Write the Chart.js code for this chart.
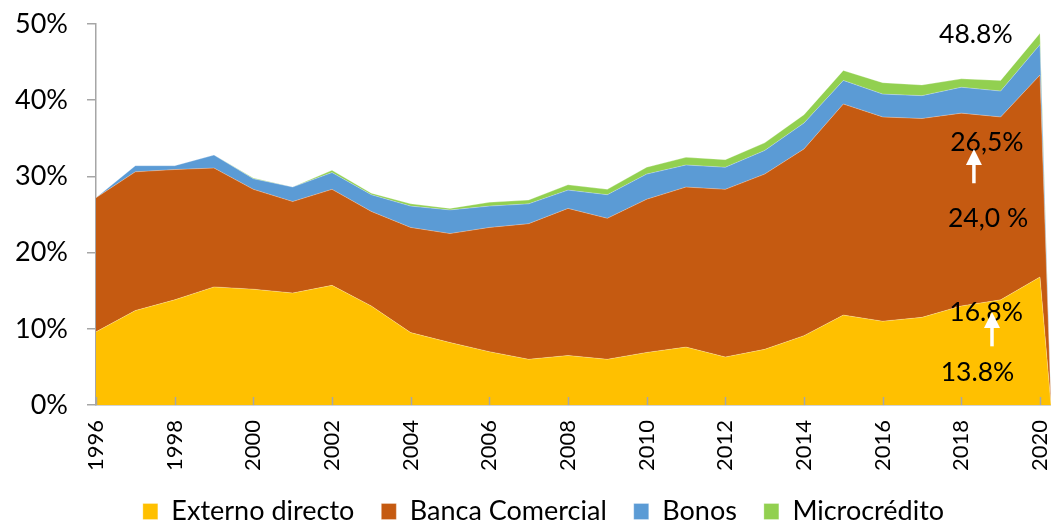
<!DOCTYPE html>
<html>
<head>
    <meta charset="UTF-8">
    <title>Deuda por fuente de financiamiento</title>
    <script src="https://cdn.jsdelivr.net/npm/chart.js@4.4.1/dist/chart.umd.min.js"></script>
    <style>
        body { margin: 0; background: #fff; }
        #wrap { width: 1051px; height: 521px; position: relative; }
    </style>
</head>
<body>
<div id="wrap"><canvas id="chart"></canvas></div>
<script>
// years on the x axis (every second one is labelled)
const years = [1996, 1997, 1998, 1999, 2000, 2001, 2002, 2003, 2004, 2005, 2006, 2007, 2008,
               2009, 2010, 2011, 2012, 2013, 2014, 2015, 2016, 2017, 2018, 2019, 2020];
// share of each source, in %
const externoDirecto = [9.6, 12.4, 13.8, 15.5, 15.2, 14.7, 15.7, 13.0, 9.5, 8.2, 7.0, 6.0, 6.5,
                        6.0, 6.9, 7.6, 6.3, 7.3, 9.1, 11.8, 11.0, 11.5, 13.0, 13.8, 16.8];
const bancaComercial = [17.6, 18.2, 17.1, 15.6, 13.1, 12.0, 12.6, 12.4, 13.8, 14.3, 16.3, 17.8, 19.3,
                        18.5, 20.1, 21.0, 22.0, 23.0, 24.5, 27.7, 26.8, 26.1, 25.3, 24.0, 26.5];
const bonos = [0.0, 0.8, 0.5, 1.7, 1.4, 1.9, 2.2, 2.2, 2.8, 3.1, 2.8, 2.6, 2.4,
               3.1, 3.3, 2.9, 2.9, 3.1, 3.4, 3.1, 3.0, 3.0, 3.4, 3.4, 4.0];
const microcredito = [0.0, 0.0, 0.0, 0.0, 0.1, 0.0, 0.3, 0.2, 0.3, 0.2, 0.5, 0.5, 0.7,
                      0.7, 0.9, 1.0, 1.0, 1.0, 1.1, 1.3, 1.5, 1.4, 1.1, 1.4, 1.5];
const seriesNames = ['Externo directo', 'Banca Comercial', 'Bonos', 'Microcrédito'];
const seriesColors = ['#FFC000', '#C55A11', '#5B9BD5', '#92D050'];
const yTicks = [0, 10, 20, 30, 40, 50];
const xTicks = [1996, 1998, 2000, 2002, 2004, 2006, 2008, 2010, 2012, 2014, 2016, 2018, 2020];
// the series close back to zero right after the last year
const closeYear = 2020.28;

const FONT = 'Lato, "Noto Sans", sans-serif';

function toPoints(values) {
    const pts = years.map((yr, i) => ({ x: yr, y: values[i] }));
    pts.push({ x: closeYear, y: 0 });
    return pts;
}

const last = years.length - 1;
const total2020 = externoDirecto[last] + bancaComercial[last] + bonos[last] + microcredito[last];
const comma = v => v.toFixed(1).replace('.', ',');

// callouts next to the last two years, placed in data units
const callouts = [
    { text: total2020.toFixed(1) + '%', x: 2018.37, y: 48.6 },
    { text: comma(bancaComercial[last]) + '%', x: 2018.65, y: 34.45 },
    { text: comma(bancaComercial[last - 1]) + ' %', x: 2018.68, y: 24.5 },
    { text: externoDirecto[last].toFixed(1) + '%', x: 2018.63, y: 12.2 },
    { text: externoDirecto[last - 1].toFixed(1) + '%', x: 2018.41, y: 4.25 }
];
const arrows = [
    { x: 2018.32, from: 29.1, to: 33.6 },
    { x: 2018.78, from: 7.7, to: 12.2 }
];

const datasets = [externoDirecto, bancaComercial, bonos, microcredito].map((vals, i) => ({
    label: seriesNames[i],
    data: toPoints(vals),
    backgroundColor: seriesColors[i],
    borderColor: 'rgba(255,255,255,0.35)',
    borderWidth: 0.8,
    pointRadius: 0,
    tension: 0,
    fill: i === 0 ? 'origin' : '-1'
}));

// keep the plot edges where the layout puts them, no label overhang
function noOverhang(axis) {
    axis.paddingTop = axis.paddingBottom = axis.paddingLeft = axis.paddingRight = 0;
}

// inner tick marks on the x axis plus the text callouts and arrows
const overlay = {
    id: 'overlay',
    afterLayout(chart) {
        // legend block sits a little right of centre
        chart.legend.left += 18;
        chart.legend.right += 18;
    },
    afterDatasetsDraw(chart) {
        const { ctx, scales: { x, y }, chartArea } = chart;
        ctx.save();
        ctx.strokeStyle = '#A6A6A6';
        ctx.lineWidth = 1.5;
        ctx.beginPath();
        xTicks.forEach(t => {
            const px = Math.round(x.getPixelForValue(t)) + 0.5;
            ctx.moveTo(px, chartArea.bottom);
            ctx.lineTo(px, chartArea.bottom - 8);
        });
        ctx.stroke();

        ctx.fillStyle = '#000';
        ctx.font = '26.5px ' + FONT;
        ctx.textAlign = 'center';
        ctx.textBaseline = 'middle';
        callouts.forEach(c => {
            ctx.fillText(c.text, x.getPixelForValue(c.x), y.getPixelForValue(c.y));
        });

        ctx.strokeStyle = '#fff';
        ctx.fillStyle = '#fff';
        ctx.lineWidth = 3.5;
        arrows.forEach(a => {
            const px = x.getPixelForValue(a.x);
            const y0 = y.getPixelForValue(a.from);
            const y1 = y.getPixelForValue(a.to);
            ctx.beginPath();
            ctx.moveTo(px, y0);
            ctx.lineTo(px, y1 + 12);
            ctx.stroke();
            ctx.beginPath();
            ctx.moveTo(px, y1);
            ctx.lineTo(px - 8, y1 + 16);
            ctx.lineTo(px + 8, y1 + 16);
            ctx.closePath();
            ctx.fill();
        });
        ctx.restore();
    }
};

new Chart(document.getElementById('chart'), {
    type: 'line',
    data: { datasets },
    plugins: [overlay],
    options: {
        responsive: true,
        maintainAspectRatio: false,
        animation: false,
        layout: { padding: { top: 24, right: 0, left: 0, bottom: 0 } },
        plugins: {
            tooltip: { enabled: false },
            legend: {
                position: 'bottom',
                maxHeight: 50,
                labels: {
                    font: { family: FONT, size: 27 },
                    color: '#000',
                    boxWidth: 15,
                    boxHeight: 16,
                    padding: 27
                }
            }
        },
        scales: {
            x: {
                type: 'linear',
                min: years[0],
                max: closeYear,
                z: 1,
                grid: { display: false, drawTicks: false },
                border: { color: '#A6A6A6', width: 1.5 },
                afterBuildTicks: axis => { axis.ticks = xTicks.map(v => ({ value: v })); },
                afterFit: axis => { noOverhang(axis); axis.height = 66; },
                ticks: {
                    autoSkip: false,
                    minRotation: 90,
                    maxRotation: 90,
                    padding: 15,
                    color: '#000',
                    font: { family: FONT, size: 22 },
                    callback: v => String(v)
                }
            },
            y: {
                stacked: true,
                min: 0,
                max: 50,
                z: 1,
                grid: { drawOnChartArea: false, drawTicks: true, tickLength: 9, color: '#A6A6A6', lineWidth: 1.5 },
                border: { color: '#A6A6A6', width: 1.5 },
                afterBuildTicks: axis => { axis.ticks = yTicks.map(v => ({ value: v })); },
                afterFit: axis => { noOverhang(axis); axis.width = 96; },
                ticks: {
                    padding: 19,
                    color: '#000',
                    font: { family: FONT, size: 27 },
                    callback: v => v + '%'
                }
            }
        }
    }
});
</script>
</body>
</html>
